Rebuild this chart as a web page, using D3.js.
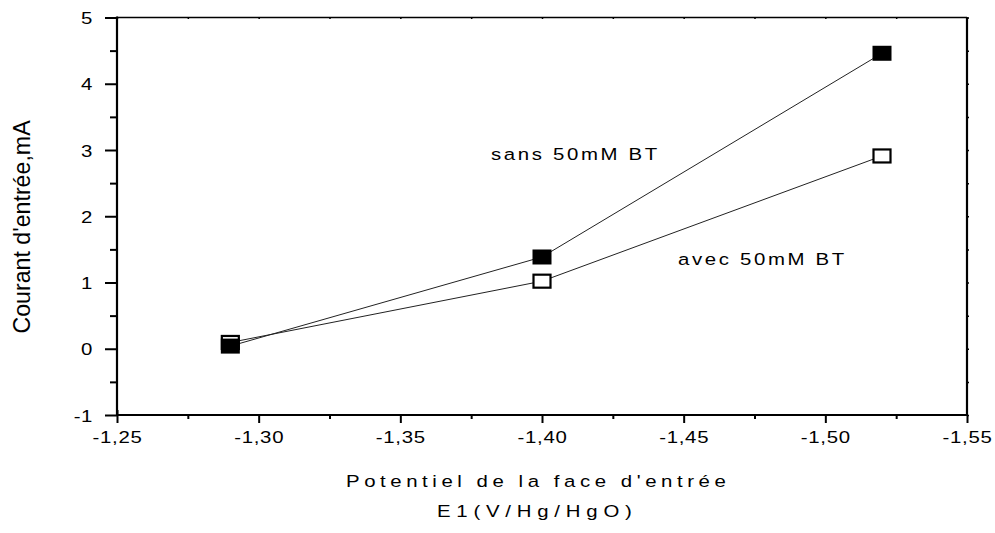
<!DOCTYPE html>
<html><head><meta charset="utf-8">
<script src="https://cdn.jsdelivr.net/npm/d3@7/dist/d3.min.js"></script>
<style>body{margin:0;background:#fff}svg{display:block;font-family:"Liberation Sans",Arial,sans-serif}</style>
</head><body><svg id="c" width="995" height="533"></svg>
<script>
const potentials = [-1.29, -1.40, -1.52];
const sansBT = [0.04, 1.385, 4.46];
const avecBT = [0.095, 1.02, 2.91];
const xTicks = [-1.25, -1.30, -1.35, -1.40, -1.45, -1.50, -1.55];
const xMinor = [-1.275, -1.325, -1.375, -1.425, -1.475, -1.525];
const yTicks = [-1, 0, 1, 2, 3, 4, 5];
const yMinor = [-0.5, 0.5, 1.5, 2.5, 3.5, 4.5];
const labelSans = "sans 50mM BT";
const labelAvec = "avec 50mM BT";
const xTitle1 = "Potentiel de la face d'entrée";
const xTitle2 = "E1(V/Hg/HgO)";
const yTitle = "Courant d'entrée,mA";

const SX = 1.2; // horizontal stretch of the original typeface
const svg = d3.select("#c");
const L = 117, R = 967, T = 17.5, B = 415;
const x = d3.scaleLinear().domain([-1.25, -1.55]).range([L, R]);
const y = d3.scaleLinear().domain([-1, 5]).range([B, T]);
const fmtX = d => d3.format(".2f")(d).replace(".", ",").replace("−", "-");
const fmtY = d => String(d).replace("−", "-");

// frame top and right
svg.append("line").attr("x1", L).attr("x2", R).attr("y1", T).attr("y2", T).attr("stroke", "#000").attr("stroke-width", 1.5);
svg.append("line").attr("x1", R).attr("x2", R).attr("y1", T).attr("y2", B).attr("stroke", "#000").attr("stroke-width", 2.2);
svg.append("g").attr("transform", `translate(${R},0)`).call(d3.axisRight(y).tickValues(yMinor.concat(yTicks)).tickSize(2).tickFormat(""))
  .call(g => { g.select(".domain").remove(); g.selectAll("line").attr("stroke-width", 1.5); });
svg.append("g").attr("transform", `translate(0,${T})`).call(d3.axisBottom(x).tickValues(xMinor.concat(xTicks)).tickSize(1.5).tickFormat(""))
  .call(g => { g.select(".domain").remove(); g.selectAll("line").attr("stroke-width", 1.5); });

// left axis
svg.append("g").attr("transform", `translate(${L},0)`)
  .call(d3.axisLeft(y).tickValues(yMinor).tickSize(7).tickFormat(""))
  .call(g => { g.select(".domain").remove(); g.selectAll("line").attr("stroke-width", 2); });
svg.append("g").attr("transform", `translate(${L},0)`)
  .call(d3.axisLeft(y).tickValues(yTicks).tickSize(12).tickPadding(12).tickFormat(fmtY))
  .call(g => {
    g.select(".domain").remove();
    g.selectAll("line").attr("stroke-width", 2);
    g.selectAll("text").attr("font-size", 17).attr("font-family", "Liberation Sans, Arial, sans-serif").attr("fill", "#000")
      .attr("dy", "0.36em").attr("x", -24 / SX).attr("transform", `scale(${SX},1)`).attr("letter-spacing", 0.5);
  });
svg.append("line").attr("x1", L).attr("x2", L).attr("y1", T - 1).attr("y2", B + 1).attr("stroke", "#000").attr("stroke-width", 2.2);

// bottom axis
svg.append("g").attr("transform", `translate(0,${B})`)
  .call(d3.axisBottom(x).tickValues(xMinor).tickSize(4).tickFormat(""))
  .call(g => { g.select(".domain").remove(); g.selectAll("line").attr("stroke-width", 2); });
const gx2 = svg.append("g").attr("transform", `translate(0,${B})`);
gx2.call(d3.axisBottom(x).tickValues(xTicks).tickSize(8).tickFormat(fmtX))
  .call(g => {
    g.select(".domain").remove();
    g.selectAll("line").attr("stroke-width", 2);
    g.selectAll("text").attr("font-size", 17).attr("font-family", "Liberation Sans, Arial, sans-serif").attr("fill", "#000")
      .attr("y", 28).attr("dy", 0).attr("x", 0).attr("transform", `scale(${SX},1)`).attr("letter-spacing", 0.6);
  });
gx2.select(".tick line").attr("y1", -5);
svg.append("line").attr("x1", L - 1).attr("x2", R + 1).attr("y1", B).attr("y2", B).attr("stroke", "#000").attr("stroke-width", 2.2);

// lines
const pts = (vals) => potentials.map((p, i) => [x(p), y(vals[i])]);
const line = d3.line();
svg.append("path").attr("d", line(pts(sansBT))).attr("fill", "none").attr("stroke", "#222").attr("stroke-width", 1);
svg.append("path").attr("d", line(pts(avecBT))).attr("fill", "none").attr("stroke", "#222").attr("stroke-width", 1);

// markers
const W = 19, H = 15;
svg.append("g").selectAll("rect").data(pts(avecBT)).join("rect")
  .attr("x", d => d[0] - W / 2 + 1).attr("y", d => d[1] - H / 2 + 1).attr("width", W - 2).attr("height", H - 2)
  .attr("fill", "#fff").attr("stroke", "#000").attr("stroke-width", 2.2);
svg.append("g").selectAll("rect").data(pts(sansBT)).join("rect")
  .attr("x", d => d[0] - W / 2).attr("y", d => d[1] - H / 2).attr("width", W).attr("height", H)
  .attr("fill", "#000");

// stretched text helper
function stext(px, py, size, ls, str) {
  svg.append("text").attr("x", px / SX).attr("y", py).attr("transform", `scale(${SX},1)`)
    .attr("font-size", size).attr("letter-spacing", ls).text(str);
}
stext(491, 160, 17, 2.2, labelSans);
stext(678, 265, 17, 2.2, labelAvec);
stext(346, 487, 17, 3.8, xTitle1);
stext(437, 517, 17, 4.8, xTitle2);
svg.append("text").attr("transform", "translate(30,227) rotate(-90)").attr("text-anchor", "middle").attr("font-size", 23.2).text(yTitle);
</script></body></html>
